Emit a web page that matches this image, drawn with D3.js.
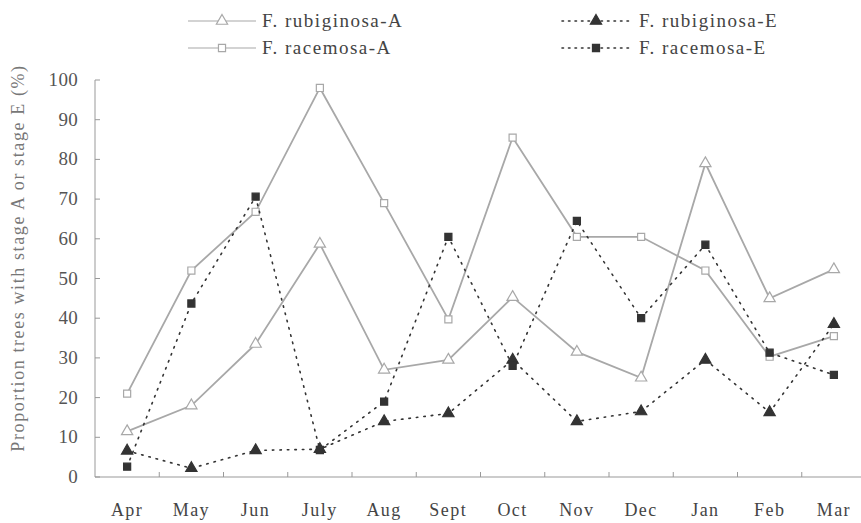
<!DOCTYPE html>
<html>
<head>
<meta charset="utf-8">
<script src="https://cdn.jsdelivr.net/npm/d3@7"></script>
<style>
  body { margin: 0; background: #fff; }
  svg text { font-family: "Liberation Serif", "DejaVu Serif", serif; }
</style>
</head>
<body>
<div id="main"></div>
<script>
// data
var months = ["Apr", "May", "Jun", "July", "Aug", "Sept", "Oct", "Nov", "Dec", "Jan", "Feb", "Mar"];
var rubiginosaA = [11.5, 18, 33.5, 58.7, 27, 29.5, 45.3, 31.5, 25, 79, 45, 52.3];
var racemosaA = [21, 52, 66.8, 98, 69, 39.7, 85.5, 60.5, 60.5, 52, 30.3, 35.5];
var rubiginosaE = [6.6, 2.2, 6.7, 7, 14, 16, 29.5, 14, 16.5, 29.5, 16.3, 38.5];
var racemosaE = [2.6, 43.7, 70.6, 6.8, 19, 60.5, 28, 64.5, 40, 58.5, 31.3, 25.7];
var yTicks = [0, 10, 20, 30, 40, 50, 60, 70, 80, 90, 100];
var seriesNames = ["F. rubiginosa-A", "F. rubiginosa-E", "F. racemosa-A", "F. racemosa-E"];

var width = 861, height = 523;
var plotLeft = 95, plotBottom = 477, plotTop = 80, plotRight = 866;

var grey = "#a8a8a8";
var dark = "#333";

var series = [
    {name: seriesNames[0], values: rubiginosaA, shape: d3.symbolTriangle, filled: false},
    {name: seriesNames[1], values: rubiginosaE, shape: d3.symbolTriangle, filled: true},
    {name: seriesNames[2], values: racemosaA, shape: d3.symbolSquare, filled: false},
    {name: seriesNames[3], values: racemosaE, shape: d3.symbolSquare, filled: true}
];

var svg = d3.select("#main").append("svg")
    .attr("width", width)
    .attr("height", height);

var x = d3.scaleBand().domain(months).range([plotLeft, plotRight]);
var y = d3.scaleLinear().domain([0, 100]).range([plotBottom, plotTop]);

// axes
svg.append("line")
    .attr("x1", plotLeft).attr("x2", plotLeft)
    .attr("y1", y(100)).attr("y2", plotBottom)
    .attr("stroke", "#999").attr("stroke-width", 1);
svg.append("line")
    .attr("x1", plotLeft).attr("x2", width)
    .attr("y1", plotBottom).attr("y2", plotBottom)
    .attr("stroke", "#999").attr("stroke-width", 1);

yTicks.forEach(function(t) {
    svg.append("line")
        .attr("x1", plotLeft).attr("x2", plotLeft + 5)
        .attr("y1", y(t)).attr("y2", y(t))
        .attr("stroke", "#999");
    svg.append("text")
        .text(t)
        .attr("x", 78)
        .attr("y", y(t) + 6)
        .attr("text-anchor", "end")
        .attr("font-size", "19px")
        .attr("letter-spacing", "0.3px")
        .attr("fill", "#555");
});

months.forEach(function(m, i) {
    if (i > 0) {
        svg.append("line")
            .attr("x1", x(m)).attr("x2", x(m))
            .attr("y1", plotBottom).attr("y2", plotBottom - 5)
            .attr("stroke", "#999");
    }
    svg.append("text")
        .text(m)
        .attr("x", x(m) + x.bandwidth() / 2)
        .attr("y", 516)
        .attr("text-anchor", "middle")
        .attr("font-size", "18px")
        .attr("letter-spacing", "1.5px")
        .attr("fill", "#444");
});

svg.append("text")
    .text("Proportion trees with stage A or stage E (%)")
    .attr("transform", "translate(24,258) rotate(-90)")
    .attr("text-anchor", "middle")
    .attr("font-size", "18px")
    .attr("letter-spacing", "1.6px")
    .attr("fill", "#777");

var line = d3.line()
    .x(function(d, i) { return x(months[i]) + x.bandwidth() / 2; })
    .y(function(d) { return y(d); });

function drawMarker(g, s, cx, cy) {
    var size = s.shape === d3.symbolTriangle ? 55 : 50;
    g.append("path")
        .attr("d", d3.symbol().type(s.shape).size(size)())
        .attr("transform", "translate(" + cx + "," + cy + ")")
        .attr("fill", s.filled ? dark : "#fff")
        .attr("stroke", s.filled ? dark : grey)
        .attr("stroke-width", 1.2);
}

// A series drawn first, E series on top
[0, 2, 1, 3].forEach(function(k) {
    var s = series[k];
    svg.append("path")
        .datum(s.values)
        .attr("d", line)
        .attr("fill", "none")
        .attr("stroke", s.filled ? dark : grey)
        .attr("stroke-width", s.filled ? 1.6 : 1.8)
        .attr("stroke-dasharray", s.filled ? "1.5,6" : null)
        .attr("stroke-linecap", s.filled ? "round" : "butt");
    s.values.forEach(function(v, i) {
        drawMarker(svg, s, x(months[i]) + x.bandwidth() / 2, y(v));
    });
});

// legend
var legendPos = [[188, 21], [562, 21], [188, 48], [562, 48]];
series.forEach(function(s, k) {
    var lx = legendPos[k][0], ly = legendPos[k][1];
    var g = svg.append("g");
    g.append("line")
        .attr("x1", lx).attr("x2", lx + 68)
        .attr("y1", ly).attr("y2", ly)
        .attr("stroke", s.filled ? dark : grey)
        .attr("stroke-width", s.filled ? 1.6 : 1.2)
        .attr("stroke-dasharray", s.filled ? "1.5,5" : null)
        .attr("stroke-linecap", s.filled ? "round" : "butt");
    drawMarker(g, s, lx + 34, ly);
    g.append("text")
        .text(s.name)
        .attr("x", lx + (s.filled ? 77 : 74))
        .attr("y", ly + 6)
        .attr("font-size", "19px")
        .attr("letter-spacing", "1.5px")
        .attr("fill", "#444");
});
</script>
</body>
</html>
